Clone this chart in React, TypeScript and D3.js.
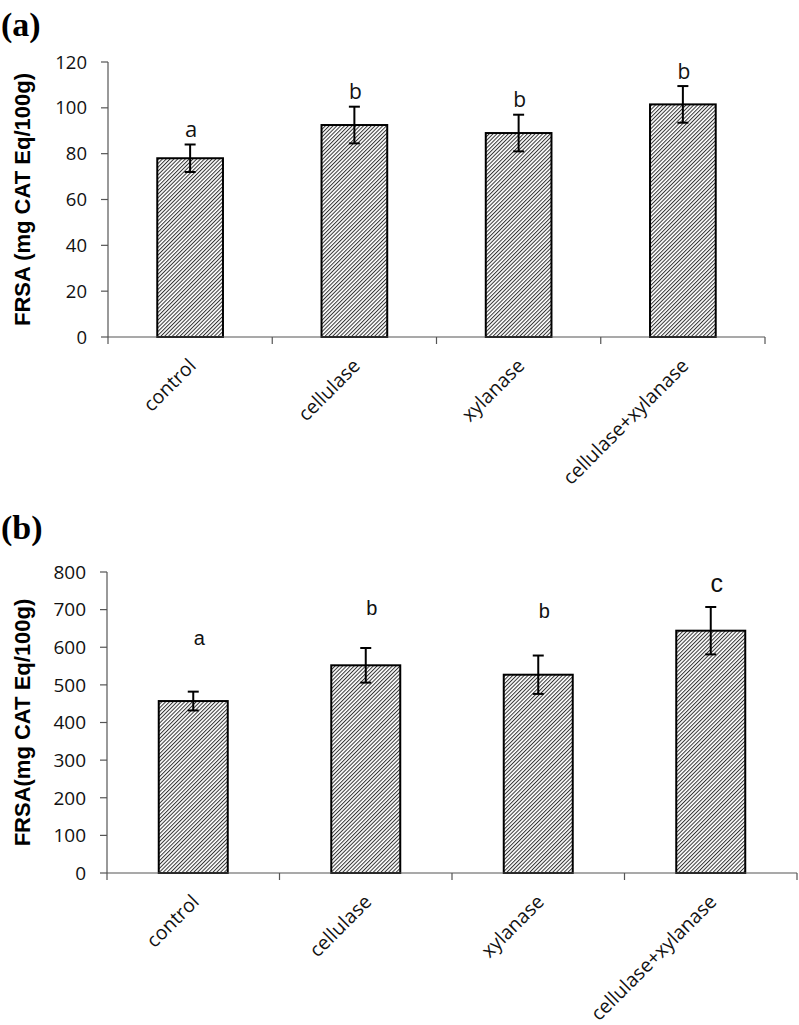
import React from "react";
import * as d3 from "d3";

const categories = ["control", "cellulase", "xylanase", "cellulase+xylanase"];

// Panel (a)
const valuesA = [78, 92.5, 89, 101.5];
const errorsA = [6, 8, 8, 8];
const lettersA = ["a", "b", "b", "b"];
const ticksA = [0, 20, 40, 60, 80, 100, 120];

// Panel (b)
const valuesB = [457, 552, 527, 644];
const errorsB = [25, 46, 51, 63];
const lettersB = ["a", "b", "b", "c"];
const letterValB = [606, 686, 678, 747];
const ticksB = [0, 100, 200, 300, 400, 500, 600, 700, 800];

type PanelProps = {
  id: string;
  label: string;
  labelY: number;
  title: string;
  values: number[];
  errors: number[];
  letters: string[];
  letterVals?: number[];
  ticks: number[];
  yMax: number;
  x0: number;
  x1: number;
  yTop: number;
  yBottom: number;
  tickFont: number;
  letterFont: string;
  letterSize: number[];
  letterDx: number;
};

function Panel(p: PanelProps) {
  const x = d3.scaleBand<string>().domain(categories).range([p.x0, p.x1]).paddingInner(0.6).paddingOuter(0.3);
  const band = d3.scaleBand<string>().domain(categories).range([p.x0, p.x1]);
  const y = d3.scaleLinear().domain([0, p.yMax]).range([p.yBottom, p.yTop]);
  const bw = x.bandwidth();
  const boundaries = d3.range(categories.length + 1).map((i) => p.x0 + i * band.bandwidth());
  return (
    <g>
      <text x={1} y={p.labelY} fontFamily="'Liberation Serif', 'Times New Roman', serif" fontWeight="bold" fontSize={34}>
        {p.label}
      </text>
      <text
        transform={`translate(30,${(p.yTop + p.yBottom) / 2}) rotate(-90)`}
        textAnchor="middle"
        fontFamily="'Liberation Sans', Arial, sans-serif"
        fontWeight="bold"
        fontSize={22}
      >
        {p.title}
      </text>
      {p.values.map((v, i) => (
        <rect
          key={"bar" + i}
          x={x(categories[i])}
          y={y(v)}
          width={bw}
          height={y(0) - y(v)}
          fill={`url(#${p.id})`}
          stroke="#000"
          strokeWidth={2}
        />
      ))}
      <line x1={p.x0} x2={p.x0} y1={p.yTop} y2={p.yBottom} stroke="#555" strokeWidth={1.2} />
      <line x1={p.x0} x2={p.x1} y1={p.yBottom} y2={p.yBottom} stroke="#555" strokeWidth={1.2} />
      {p.ticks.map((t) => (
        <g key={"t" + t}>
          <line x1={p.x0 - 7} x2={p.x0} y1={y(t)} y2={y(t)} stroke="#555" strokeWidth={1.2} />
          <text
            x={p.x0 - 21}
            y={y(t)}
            dy="0.36em"
            textAnchor="end"
            fontFamily="'Open Sans', sans-serif"
            fontSize={p.tickFont}
            fill="#111"
          >
            {t}
          </text>
        </g>
      ))}
      {boundaries.map((bx, i) => (
        <line key={"xt" + i} x1={bx} x2={bx} y1={p.yBottom} y2={p.yBottom + 7} stroke="#555" strokeWidth={1.2} />
      ))}
      {p.values.map((v, i) => {
        const cx = (x(categories[i]) as number) + bw / 2;
        const e = p.errors[i];
        return (
          <g key={"err" + i} stroke="#000" strokeWidth={2}>
            <line x1={cx} x2={cx} y1={y(v + e)} y2={y(v - e)} />
            <line x1={cx - 5.5} x2={cx + 5.5} y1={y(v + e)} y2={y(v + e)} />
            <line x1={cx - 5.5} x2={cx + 5.5} y1={y(v - e)} y2={y(v - e)} />
          </g>
        );
      })}
      {p.values.map((v, i) => {
        const cx = (x(categories[i]) as number) + bw / 2;
        const ly = p.letterVals ? y(p.letterVals[i]) : y(v + p.errors[i]) - 7.5;
        return (
          <text
            key={"l" + i}
            x={cx + p.letterDx}
            y={ly}
            textAnchor="middle"
            fontFamily={p.letterFont}
            fontSize={p.letterSize[i]}
            fill="#111"
          >
            {p.letters[i]}
          </text>
        );
      })}
      {categories.map((c) => {
        const cx = (band(c) as number) + band.bandwidth() / 2;
        return (
          <text
            key={"c" + c}
            transform={`translate(${cx + 7},${p.yBottom + 30}) rotate(-45)`}
            textAnchor="end"
            fontFamily="'Open Sans', sans-serif"
            fontSize={19.5}
            fill="#111"
          >
            {c}
          </text>
        );
      })}
    </g>
  );
}

export default function App() {
  return (
    <svg width={799} height={1025} style={{ position: "absolute", left: 0, top: 0, background: "#fff" }}>
      <defs>
        {["hatchA", "hatchB"].map((id) => (
          <pattern key={id} id={id} patternUnits="userSpaceOnUse" width={2.7} height={2.7} patternTransform="rotate(45)">
            <rect width={2.7} height={2.7} fill="#fff" />
            <line x1={0.5} x2={0.5} y1={0} y2={2.7} stroke="#333" strokeWidth={1} />
          </pattern>
        ))}
      </defs>
      <rect width={799} height={1025} fill="#fff" />
      <Panel
        id="hatchA"
        label="(a)"
        labelY={36}
        title="FRSA (mg CAT Eq/100g)"
        values={valuesA}
        errors={errorsA}
        letters={lettersA}
        ticks={ticksA}
        yMax={120}
        x0={108}
        x1={765}
        yTop={62}
        yBottom={337}
        tickFont={18.5}
        letterFont="'Open Sans', sans-serif"
        letterSize={[22, 21, 21, 21]}
        letterDx={1}
      />
      <Panel
        id="hatchB"
        label="(b)"
        labelY={539}
        title="FRSA(mg CAT Eq/100g)"
        values={valuesB}
        errors={errorsB}
        letters={lettersB}
        letterVals={letterValB}
        ticks={ticksB}
        yMax={800}
        x0={107}
        x1={797}
        yTop={572}
        yBottom={873}
        tickFont={19}
        letterFont="'Liberation Sans', Arial, sans-serif"
        letterSize={[20, 20, 20, 25]}
        letterDx={6}
      />
    </svg>
  );
}
